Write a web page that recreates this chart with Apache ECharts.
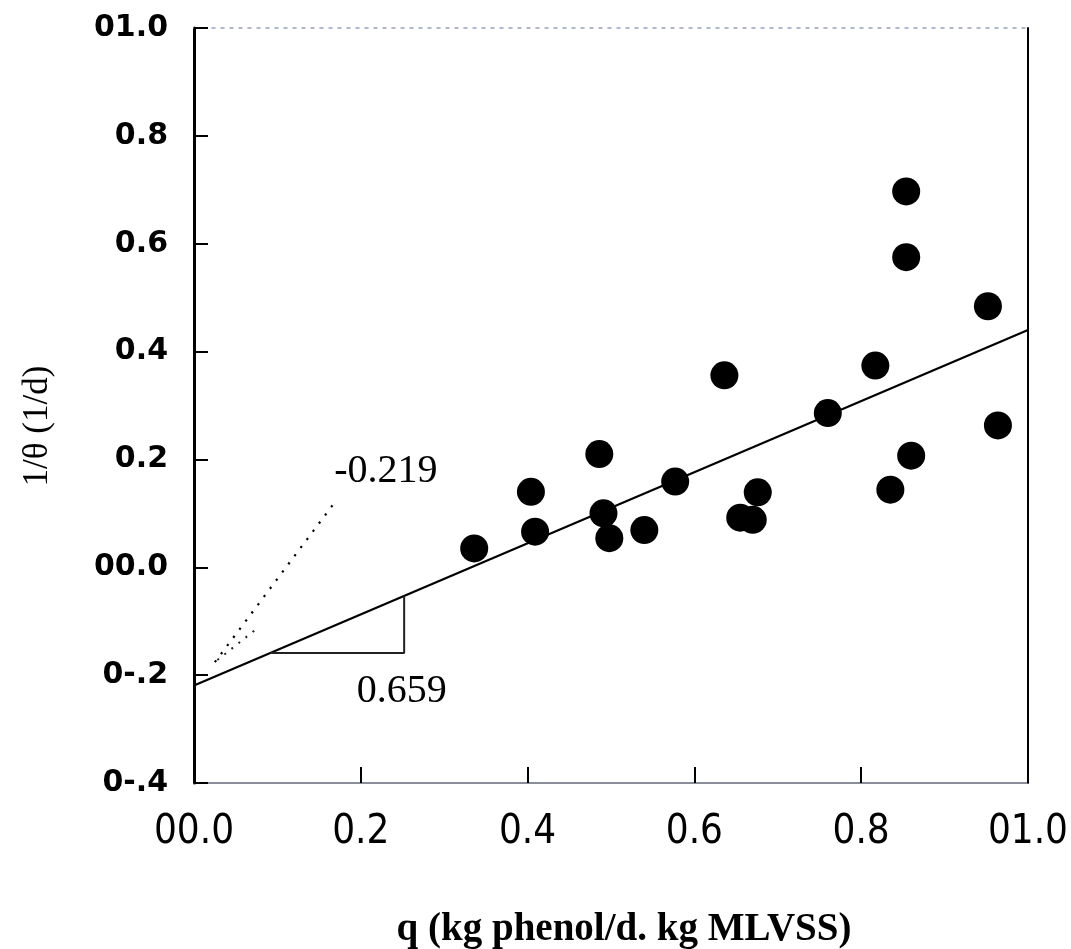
<!DOCTYPE html>
<html>
<head>
<meta charset="utf-8">
<script src="https://cdn.jsdelivr.net/npm/echarts@6/dist/echarts.min.js"></script>
<style>html,body{margin:0;padding:0;background:#fff;}#c{width:1071px;height:949px;}</style>
</head>
<body>
<div id="c"></div>
<script>
// Data
const qValues =        [0.336, 0.404, 0.409, 0.486, 0.491, 0.498, 0.540, 0.577, 0.636, 0.655, 0.670, 0.676, 0.760, 0.817, 0.854, 0.854, 0.952, 0.964, 0.860, 0.835];
const invThetaValues = [0.035, 0.140, 0.066, 0.210, 0.100, 0.054, 0.069, 0.159, 0.356, 0.092, 0.088, 0.139, 0.286, 0.374, 0.697, 0.575, 0.484, 0.263, 0.207, 0.144];
const fitX = [0.0, 1.0];
const fitY = [-0.219, 0.440];
const slopeTriX = [0.091, 0.252, 0.252];
const slopeTriY = [-0.159, -0.159, -0.053];
const interceptDotsX = [0.025, 0.171];
const interceptDotsY = [-0.176, 0.125];
const interceptDots2X = [0.028, 0.076];
const interceptDots2Y = [-0.172, -0.113];
const annotTexts = ["-0.219", "0.659"];
const annotX = [0.230, 0.249];
const annotY = [0.177, -0.231];
const xTickLabels = ["00.0", "0.2", "0.4", "0.6", "0.8", "01.0"];
const yTickLabels = ["0-.4", "0-.2", "00.0", "0.2", "0.4", "0.6", "0.8", "01.0"];

const zip = (a, b) => a.map((v, i) => [v, b[i]]);

const chart = echarts.init(document.getElementById('c'), null, {renderer: 'canvas'});
const serif = "'Liberation Serif', 'Times New Roman', serif";

chart.setOption({
  backgroundColor: '#fff',
  animation: false,
  grid: {left: 194, right: 43, top: 28, bottom: 166, containLabel: false},
  xAxis: [{
    type: 'value', min: 0, max: 1.0, interval: 0.2, position: 'bottom',
    axisLine: {show: true, onZero: false, lineStyle: {color: '#666a7a', width: 1.5}},
    axisTick: {show: true, inside: true, length: 16, lineStyle: {color: '#000', width: 2}},
    splitLine: {show: false},
    axisLabel: {
      margin: 30,
      fontFamily: "'DejaVu Sans Condensed', sans-serif",
      fontSize: 40, color: '#000',
      formatter: (v, i) => xTickLabels[i]
    }
  }, {
    type: 'value', min: 0, max: 1.0, position: 'top',
    axisLine: {show: true, onZero: false, lineStyle: {color: '#9aa0c0', width: 1.5, type: [3, 6]}},
    axisTick: {show: false}, axisLabel: {show: false}, splitLine: {show: false}
  }],
  yAxis: [{
    type: 'value', min: -0.4, max: 1.0, interval: 0.2, position: 'left',
    axisLine: {show: true, onZero: false, lineStyle: {color: '#000', width: 3}},
    axisTick: {show: true, inside: true, length: 14, lineStyle: {color: '#000', width: 2}},
    splitLine: {show: false},
    axisLabel: {
      margin: 26,
      fontFamily: "'DejaVu Sans', sans-serif", fontWeight: 'bold',
      fontSize: 30, color: '#000',
      formatter: (v, i) => yTickLabels[i]
    }
  }, {
    type: 'value', min: -0.4, max: 1.0, position: 'right',
    axisLine: {show: true, onZero: false, lineStyle: {color: '#000', width: 2}},
    axisTick: {show: false}, axisLabel: {show: false}, splitLine: {show: false}
  }],
  graphic: [{
    type: 'text', x: 624, y: 930,
    style: {text: 'q (kg phenol/d. kg MLVSS)', fontFamily: serif, fontWeight: 'bold', fontSize: 39, fill: '#000', align: 'center', verticalAlign: 'middle'}
  }, {
    type: 'text', x: 38, y: 426, rotation: Math.PI / 2,
    style: {text: '1/θ (1/d)', fontFamily: serif, fontSize: 35, fill: '#000', align: 'center', verticalAlign: 'middle'}
  }],
  series: [{
    type: 'line', data: zip(fitX, fitY), symbol: 'none', z: 2,
    lineStyle: {color: '#000', width: 2.2}
  }, {
    type: 'line', data: zip(slopeTriX, slopeTriY), symbol: 'none', z: 2,
    lineStyle: {color: '#222', width: 2}
  }, {
    type: 'line', data: zip(interceptDotsX, interceptDotsY), symbol: 'none', z: 2,
    lineStyle: {color: '#000', width: 2.2, type: [2.2, 8]}
  }, {
    type: 'line', data: zip(interceptDots2X, interceptDots2Y), symbol: 'none', z: 2,
    lineStyle: {color: '#222', width: 2, type: [2, 7]}
  }, {
    type: 'scatter', data: zip(qValues, invThetaValues), symbol: 'circle', symbolSize: 28, z: 3,
    itemStyle: {color: '#000', opacity: 1}
  }, {
    type: 'scatter', data: zip(annotX, annotY), symbolSize: 0, z: 4, silent: true,
    itemStyle: {opacity: 1},
    label: {
      show: true, position: 'inside', color: '#000', opacity: 1, fontFamily: serif, fontSize: 40,
      formatter: p => annotTexts[p.dataIndex]
    }
  }]
});
</script>
</body>
</html>
